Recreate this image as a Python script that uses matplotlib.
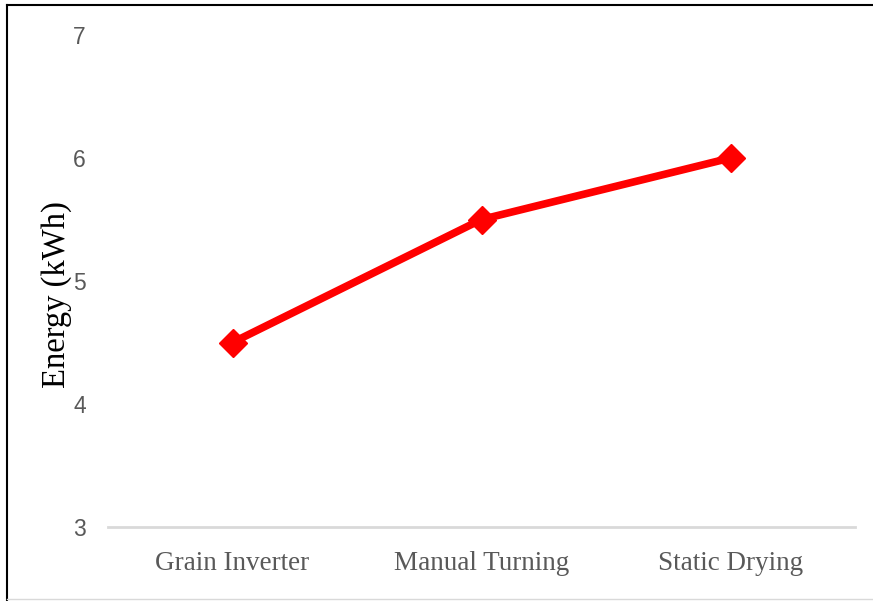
import matplotlib
matplotlib.use('Agg')
import matplotlib.pyplot as plt
from matplotlib.lines import Line2D

# energy use per drying method
metodos = ['Grain Inverter', 'Manual Turning', 'Static Drying']
energia = [4.5, 5.5, 6.0]
yticks = [3, 4, 5, 6, 7]

fig = plt.figure(figsize=(8.73, 6.01), dpi=100)
ax = fig.add_axes([108/873, 74/601, 747/873, 492/601])

x = range(len(metodos))
ax.plot(x, energia, color='#FF0000', linewidth=5.5, marker='D', markersize=14,
        solid_capstyle='round')

ax.set_xlim(-0.5, len(metodos) - 0.5)
ax.set_ylim(3, 7)
ax.set_yticks(yticks)
ax.set_yticklabels([str(v) for v in yticks], family='Liberation Sans',
                   fontsize=16.5, color='#595959')
ax.set_xticks(list(x))
ax.set_xticklabels(metodos, family='Liberation Serif', fontsize=19.5, color='#595959')
ax.tick_params(axis='y', length=0, pad=16)
ax.tick_params(axis='x', length=0, pad=17)

for s in ['top', 'right', 'left']:
    ax.spines[s].set_visible(False)
ax.spines['bottom'].set_color('#D9D9D9')
ax.spines['bottom'].set_linewidth(2)

ax.set_ylabel('Energy (kWh)', family='Liberation Serif', fontsize=23.5, color='black',
              labelpad=0)
ax.yaxis.set_label_coords(-36/747, 0.472)

# frame around the figure
fig.add_artist(Line2D([7/873, 7/873], [0, 596/601], color='black', linewidth=1.5,
                      transform=fig.transFigure))
fig.add_artist(Line2D([7/873, 1], [596/601, 596/601], color='black', linewidth=1.5,
                      transform=fig.transFigure))
fig.add_artist(Line2D([7/873, 1], [2/601, 2/601], color='#D9D9D9', linewidth=1,
                      transform=fig.transFigure))

fig.savefig('out.png', dpi=100)
